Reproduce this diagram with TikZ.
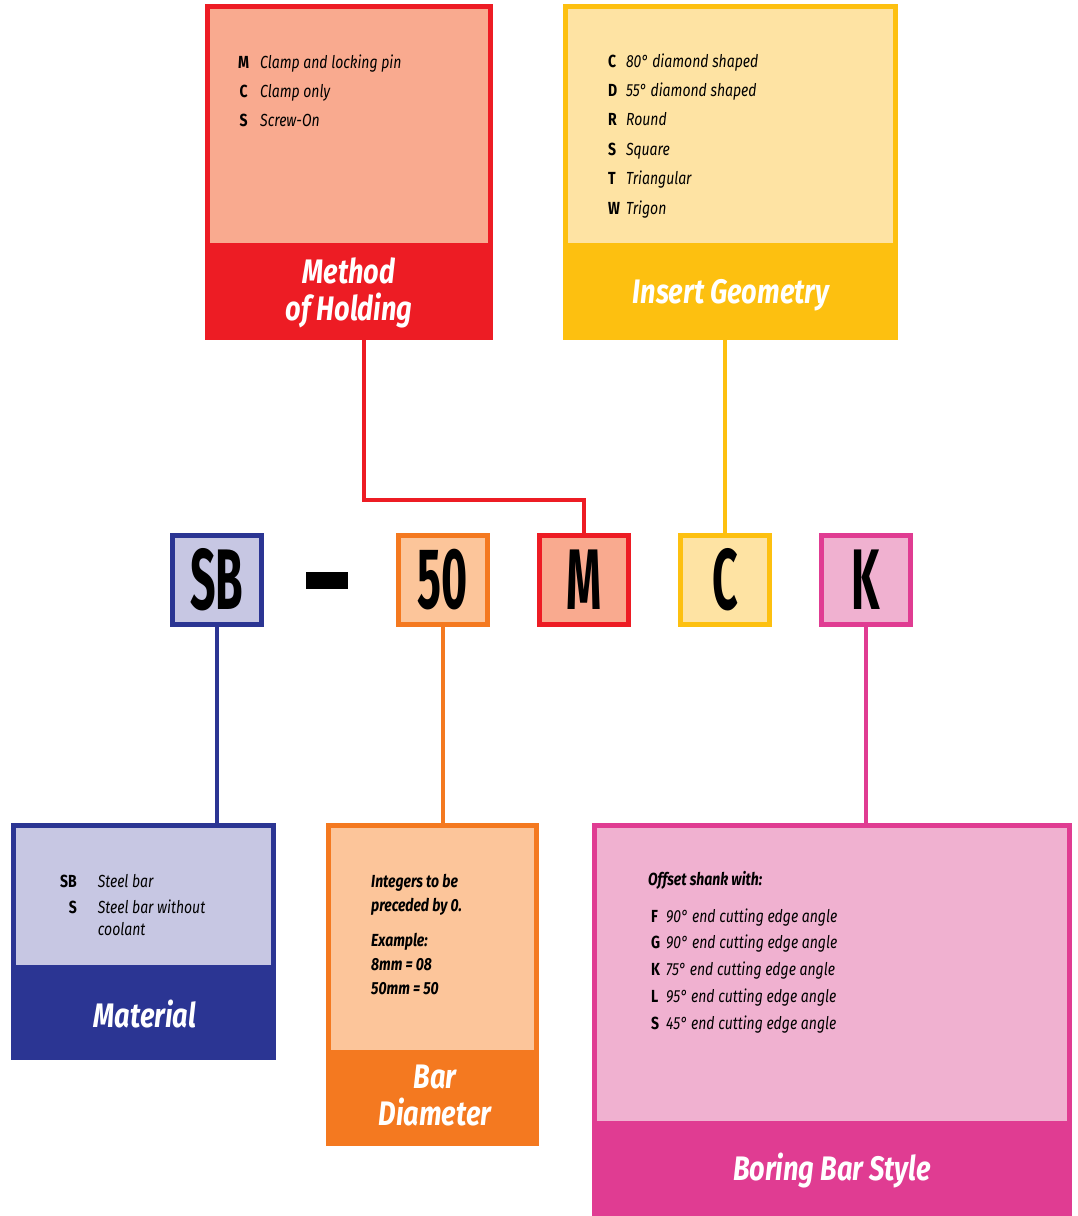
\documentclass[tikz,border=0pt]{standalone}
\usepackage{fontspec}
\setmainfont[FakeStretch=0.8]{Fira Sans}
\newfontfamily\codefont[FakeStretch=0.52]{Fira Sans}
\usetikzlibrary{positioning}
\definecolor{holdD}{HTML}{ED1C24}
\definecolor{holdL}{HTML}{F9AA8F}
\definecolor{geoD}{HTML}{FDC010}
\definecolor{geoL}{HTML}{FEE3A3}
\definecolor{matD}{HTML}{2B3593}
\definecolor{matL}{HTML}{C7C7E3}
\definecolor{diaD}{HTML}{F47920}
\definecolor{diaL}{HTML}{FCC59A}
\definecolor{styD}{HTML}{E03C92}
\definecolor{styL}{HTML}{F0B1D0}

\begin{document}
\begin{tikzpicture}[x=1pt, y=-1pt,
    panel/.style={rectangle, inner sep=0pt, outer sep=0pt, fill=#1},
    code/.style={rectangle, inner sep=0pt, minimum size=89pt, line width=5pt, draw=#1,
        font=\codefont\bfseries\fontsize{86}{86}\selectfont},
    title/.style={text=white, align=center, inner sep=0pt, font=\bfseries\itshape\fontsize{34}{37}\selectfont},
    list/.style={anchor=base west, inner sep=0pt, font=\fontsize{17.5}{29}\selectfont},
    link/.style={draw=#1, line width=4pt}]
    \useasboundingbox (0,0) rectangle (1077,1216);

    % Method of Holding
    \node[panel=holdD, minimum width=288pt, minimum height=336pt] (holding) at (349,172) {};
    \node[panel=holdL, minimum width=278pt, minimum height=234pt, below=5pt of holding.north] (holdinner) {};
    \node[list] (holdlist) at (238,68) {\begin{tabular}[t]{@{}c@{\hspace{11pt}}l@{}}
        \textbf{M} & \textit{Clamp and locking pin}\\
        \textbf{C} & \textit{Clamp only}\\
        \textbf{S} & \textit{Screw-On}
    \end{tabular}};
    \node[title] (holdtitle) at (349,293) {Method\\of Holding};

    % Insert Geometry
    \node[panel=geoD, minimum width=335pt, minimum height=336pt] (geometry) at (730.5,172) {};
    \node[panel=geoL, minimum width=325pt, minimum height=234pt, below=5pt of geometry.north] (geoinner) {};
    \node[list, font=\fontsize{17.5}{29.4}\selectfont] (geolist) at (608,67) {\begin{tabular}[t]{@{}l@{\hspace{6pt}}l@{}}
        \textbf{C} & \textit{80° diamond shaped}\\
        \textbf{D} & \textit{55° diamond shaped}\\
        \textbf{R} & \textit{Round}\\
        \textbf{S} & \textit{Square}\\
        \textbf{T} & \textit{Triangular}\\
        \textbf{W} & \textit{Trigon}
    \end{tabular}};
    \node[title] (geotitle) at (731,295) {Insert Geometry};

    % code boxes
    \node[code=matD, fill=matL] (SB) at (217,580) {SB};
    \node[rectangle, fill=black, inner sep=0pt, minimum width=42pt, minimum height=17pt] (dash) at (327,580) {};
    \node[code=diaD, fill=diaL] (fifty) at (443,580) {50};
    \node[code=holdD, fill=holdL] (M) at (584,580) {M};
    \node[code=geoD, fill=geoL] (C) at (725,580) {C};
    \node[code=styD, fill=styL] (K) at (866,580) {K};

    % Material
    \node[panel=matD, minimum width=265pt, minimum height=237pt] (material) at (143.5,941.5) {};
    \node[panel=matL, minimum width=255pt, minimum height=137pt, below=5pt of material.north] (matinner) {};
    \node[list, font=\fontsize{17.5}{26}\selectfont] (matlist) at (60,887) {\begin{tabular}[t]{@{}r@{\hspace{21pt}}l@{}}
        \textbf{SB} & \textit{Steel bar}\\
        \textbf{S} & \textit{Steel bar without}\\[-4pt]
        & \textit{coolant}
    \end{tabular}};
    \node[title] (mattitle) at (145,1014) {Material};

    % Bar Diameter
    \node[panel=diaD, minimum width=213pt, minimum height=323pt] (diameter) at (432.5,984.5) {};
    \node[panel=diaL, minimum width=203pt, minimum height=222pt, below=5pt of diameter.north] (diainner) {};
    \node[list, font=\bfseries\itshape\fontsize{17.5}{24}\selectfont] (dialist) at (371,887) {\begin{tabular}[t]{@{}l@{}}
        Integers to be\\
        preceded by 0.\\[11pt]
        Example:\\
        8mm = 08\\
        50mm = 50
    \end{tabular}};
    \node[title] (diatitle) at (435,1095) {Bar\\Diameter};

    % Boring Bar Style
    \node[panel=styD, minimum width=480pt, minimum height=393pt] (style) at (832,1019.5) {};
    \node[panel=styL, minimum width=470pt, minimum height=293pt, below=5pt of style.north] (styinner) {};
    \node[list, font=\bfseries\itshape\fontsize{17.5}{26}\selectfont] (styhead) at (648,885) {Offset shank with:};
    \node[list, font=\fontsize{17.5}{26.8}\selectfont] (stylist) at (651,922) {\begin{tabular}[t]{@{}l@{\hspace{6pt}}l@{}}
        \textbf{F} & \textit{90° end cutting edge angle}\\
        \textbf{G} & \textit{90° end cutting edge angle}\\
        \textbf{K} & \textit{75° end cutting edge angle}\\
        \textbf{L} & \textit{95° end cutting edge angle}\\
        \textbf{S} & \textit{45° end cutting edge angle}
    \end{tabular}};
    \node[title] (stytitle) at (832,1171) {Boring Bar Style};

    % connectors
    \coordinate (bendA) at (364,500);
    \draw[link=holdD] (holding.south -| bendA) -- (bendA) -| (M.north);
    \draw[link=geoD] (geometry.south -| C.north) -- (C.north);
    \draw[link=matD] (SB.south) -- (SB.south |- material.north);
    \draw[link=diaD] (fifty.south) -- (fifty.south |- diameter.north);
    \draw[link=styD] (K.south) -- (K.south |- style.north);
\end{tikzpicture}
\end{document}
